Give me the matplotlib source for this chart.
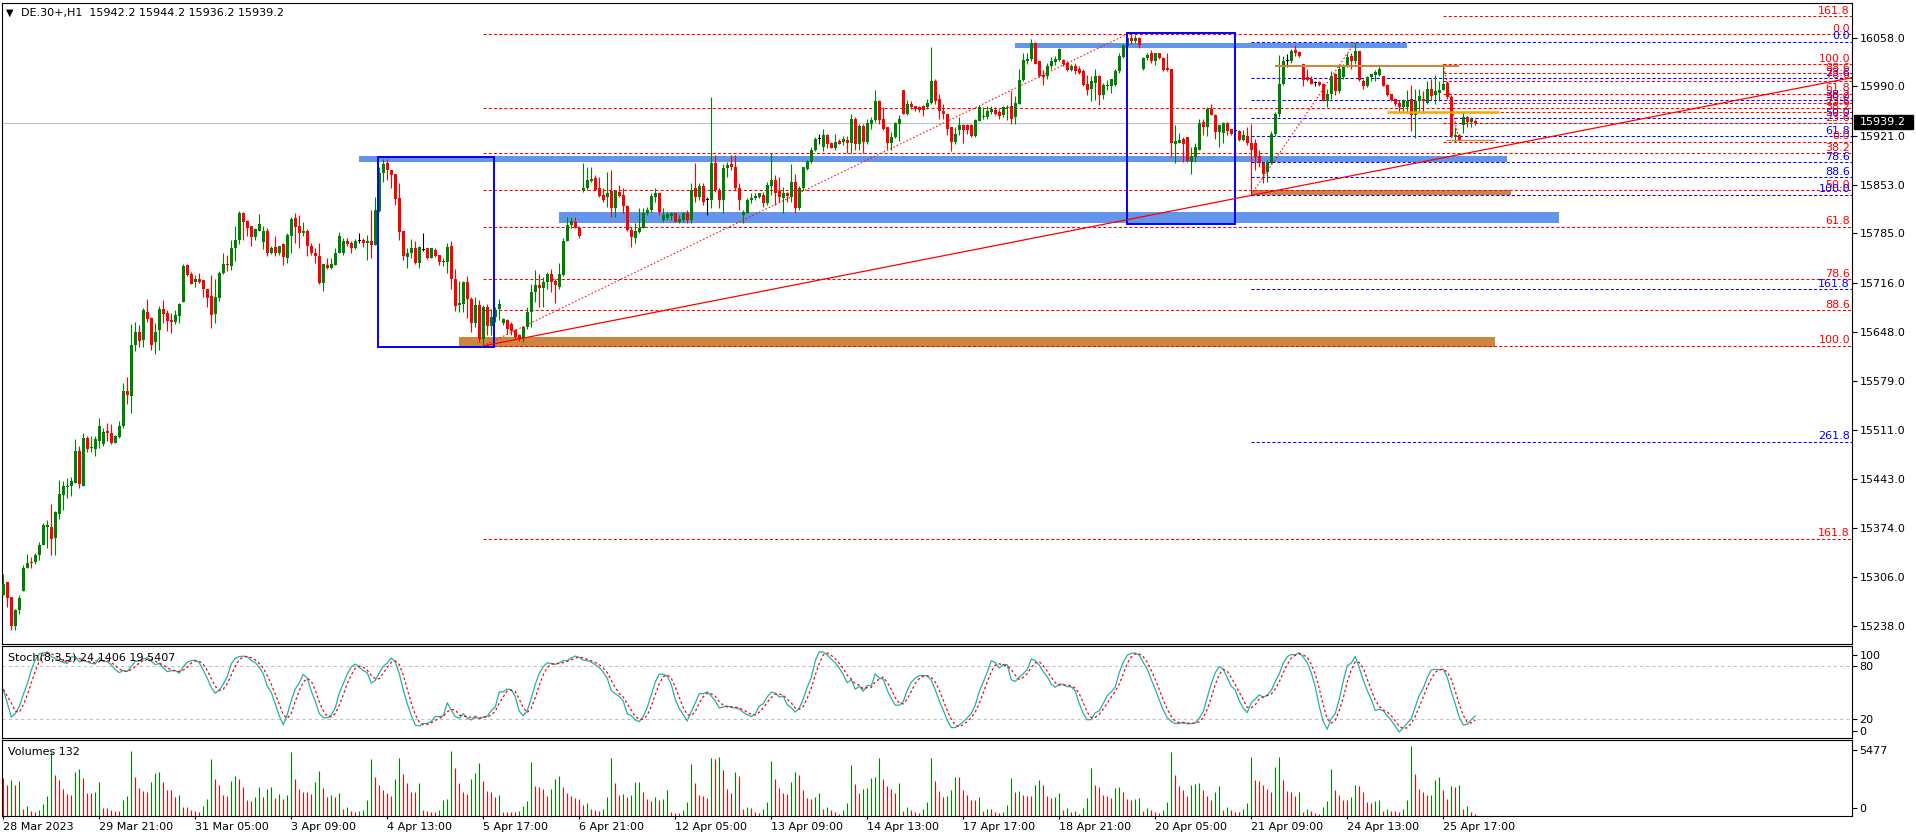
import numpy as np
import pandas as pd
import matplotlib
matplotlib.use("Agg")
import matplotlib.pyplot as plt
import matplotlib.transforms as mtransforms
from matplotlib.patches import Rectangle

# ---- candles, DE.30+ H1, 28 Mar - 25 Apr 2023 ----
opens = [
    15280, 15298, 15278, 15237, 15259, 15286, 15318, 15327, 15326, 15336,
    15350, 15375, 15376, 15360, 15394, 15420, 15431, 15433, 15437, 15481,
    15433, 15500, 15485, 15484, 15496, 15491, 15509, 15507, 15492, 15501,
    15516, 15565, 15558, 15629, 15647, 15636, 15676, 15667, 15633, 15650,
    15679, 15674, 15664, 15661, 15670, 15689, 15741, 15728, 15717, 15721,
    15720, 15707, 15697, 15673, 15695, 15730, 15743, 15740, 15765, 15776,
    15813, 15802, 15795, 15780, 15789, 15773, 15788, 15758, 15766, 15757,
    15770, 15750, 15782, 15806, 15796, 15786, 15788, 15767, 15758, 15754,
    15716, 15741, 15737, 15741, 15758, 15758, 15775, 15772, 15765, 15774,
    15776, 15772, 15775, 15769, 15816, 15869, 15883, 15873, 15868, 15834,
    15788, 15752, 15758, 15765, 15744, 15762, 15764, 15751, 15762, 15755,
    15745, 15745, 15767, 15721, 15685, 15687, 15717, 15693, 15660, 15685,
    15638, 15683, 15656, 15669, 15680, 15660, 15664, 15658, 15650, 15643,
    15639, 15654, 15675, 15703, 15713, 15709, 15717, 15728, 15718, 15710,
    15727, 15774, 15797, 15801, 15793, 15846, 15848, 15858, 15862, 15848,
    15838, 15836, 15844, 15820, 15843, 15838, 15823, 15790, 15779, 15787,
    15793, 15813, 15817, 15836, 15842, 15804, 15807, 15809, 15813, 15801,
    15803, 15813, 15803, 15848, 15836, 15851, 15831, 15831, 15883, 15846,
    15832, 15876, 15882, 15878, 15848, 15811, 15814, 15831, 15835, 15836,
    15838, 15827, 15851, 15859, 15844, 15835, 15841, 15836, 15856, 15820,
    15848, 15875, 15885, 15901, 15917, 15905, 15922, 15911, 15904, 15914,
    15913, 15915, 15911, 15944, 15910, 15935, 15913, 15938, 15943, 15969,
    15945, 15933, 15911, 15919, 15938, 15985, 15951, 15966, 15963, 15961,
    15963, 15961, 15967, 15998, 15972, 15956, 15952, 15933, 15913, 15929,
    15936, 15936, 15936, 15921, 15942, 15947, 15947, 15955, 15957, 15955,
    15950, 15960, 15963, 15948, 15966, 15999, 16026, 16028, 16051, 16025,
    16006, 16005, 16018, 16024, 16027, 16027, 16023, 16013, 16018, 16015,
    16012, 15994, 15986, 15995, 16004, 15978, 15990, 15991, 15992, 16011,
    16031, 16046, 16058, 16054, 16057, 16015, 16029, 16036, 16025, 16036,
    16030, 16016, 16014, 15910, 15911, 15917, 15919, 15885, 15892, 15902,
    15941, 15933, 15958, 15950, 15927, 15925, 15939, 15930, 15928, 15928,
    15915, 15921, 15911, 15911, 15893, 15883, 15870, 15883, 15924, 15952,
    15993, 16025, 16025, 16041, 16038, 16021, 16003, 16000, 15995, 15996,
    15993, 15969, 15980, 16007, 15983, 16003, 16018, 16032, 16025, 16039,
    15998, 15990, 16003, 16006, 16006, 16004, 15992, 15979, 15972, 15967,
    15962, 15962, 15972, 15950, 15969, 15973, 15967, 15987, 15978, 15981,
    15985, 15995, 15975, 15919, 15922, 15936, 15947, 15941, 15942.2,
]
closes = [
    15296, 15277, 15237, 15259, 15277, 15318, 15325, 15325, 15337, 15351,
    15378, 15378, 15359, 15396, 15421, 15432, 15433, 15439, 15481, 15436,
    15500, 15484, 15487, 15498, 15516, 15508, 15507, 15492, 15502, 15517,
    15565, 15559, 15630, 15647, 15635, 15678, 15665, 15629, 15648, 15679,
    15673, 15663, 15662, 15671, 15687, 15740, 15727, 15715, 15721, 15717,
    15707, 15695, 15671, 15696, 15730, 15743, 15741, 15765, 15776, 15814,
    15801, 15793, 15780, 15791, 15798, 15788, 15758, 15765, 15757, 15767,
    15752, 15783, 15805, 15794, 15786, 15788, 15768, 15757, 15754, 15716,
    15742, 15737, 15742, 15758, 15782, 15775, 15770, 15765, 15774, 15774,
    15772, 15774, 15769, 15817, 15869, 15882, 15874, 15866, 15833, 15787,
    15753, 15757, 15765, 15744, 15766, 15762, 15751, 15764, 15753, 15745,
    15746, 15766, 15721, 15684, 15688, 15717, 15693, 15660, 15685, 15637,
    15683, 15656, 15669, 15678, 15686, 15665, 15652, 15649, 15641, 15637,
    15654, 15675, 15703, 15713, 15709, 15717, 15728, 15717, 15713, 15729,
    15774, 15797, 15802, 15793, 15781, 15848, 15860, 15861, 15846, 15837,
    15831, 15841, 15820, 15844, 15837, 15823, 15790, 15780, 15789, 15793,
    15813, 15818, 15837, 15842, 15815, 15811, 15812, 15813, 15801, 15805,
    15813, 15803, 15846, 15836, 15851, 15829, 15831, 15883, 15845, 15832,
    15876, 15880, 15877, 15848, 15831, 15815, 15831, 15835, 15837, 15841,
    15827, 15852, 15859, 15841, 15836, 15841, 15837, 15856, 15820, 15848,
    15877, 15886, 15902, 15917, 15917, 15922, 15910, 15904, 15913, 15910,
    15917, 15911, 15944, 15910, 15935, 15913, 15939, 15943, 15970, 15943,
    15931, 15911, 15920, 15939, 15945, 15952, 15966, 15961, 15958, 15957,
    15957, 15967, 15998, 15969, 15956, 15951, 15931, 15913, 15924, 15936,
    15929, 15929, 15921, 15943, 15962, 15949, 15956, 15958, 15951, 15949,
    15961, 15961, 15945, 15967, 15999, 16027, 16028, 16051, 16022, 16004,
    16003, 16018, 16026, 16028, 16042, 16022, 16013, 16018, 16012, 16009,
    15992, 15985, 15998, 16004, 15978, 15992, 15992, 16000, 16011, 16032,
    16048, 16057, 16054, 16058, 16048, 16029, 16034, 16025, 16036, 16029,
    16013, 16013, 15911, 15914, 15915, 15910, 15886, 15893, 15906, 15939,
    15933, 15958, 15950, 15927, 15936, 15939, 15928, 15924, 15928, 15915,
    15922, 15911, 15901, 15891, 15883, 15868, 15885, 15924, 15952, 15994,
    16025, 16025, 16040, 16036, 16032, 15999, 15999, 15994, 15995, 15992,
    15970, 15980, 16004, 15983, 16015, 16018, 16031, 16025, 16039, 15999,
    15990, 16003, 16007, 16010, 16014, 15991, 15978, 15971, 15965, 15961,
    15971, 15969, 15950, 15970, 15976, 15969, 15987, 15977, 15983, 15985,
    15993, 15975, 15921, 15922, 15915, 15947, 15941, 15944, 15939.2,
]
highs = [
    15310, 15298, 15278, 15261, 15280, 15322, 15338, 15333, 15339, 15354,
    15381, 15385, 15407, 15398, 15441, 15440, 15444, 15445, 15498, 15489,
    15506, 15503, 15502, 15503, 15527, 15514, 15520, 15519, 15504, 15523,
    15576, 15584, 15658, 15662, 15657, 15681, 15693, 15668, 15660, 15684,
    15692, 15678, 15674, 15678, 15688, 15742, 15742, 15731, 15727, 15730,
    15720, 15707, 15727, 15721, 15733, 15757, 15755, 15776, 15796, 15816,
    15815, 15803, 15795, 15793, 15812, 15795, 15793, 15768, 15781, 15768,
    15771, 15785, 15808, 15814, 15810, 15801, 15791, 15771, 15765, 15772,
    15742, 15751, 15750, 15765, 15787, 15779, 15778, 15775, 15777, 15786,
    15779, 15783, 15817, 15836, 15878, 15889, 15889, 15874, 15868, 15855,
    15789, 15764, 15777, 15774, 15767, 15785, 15764, 15765, 15764, 15755,
    15750, 15772, 15775, 15735, 15718, 15718, 15725, 15696, 15696, 15692,
    15685, 15687, 15680, 15683, 15693, 15667, 15666, 15662, 15652, 15645,
    15656, 15683, 15715, 15734, 15728, 15724, 15731, 15736, 15722, 15744,
    15778, 15808, 15808, 15808, 15795, 15883, 15878, 15878, 15866, 15864,
    15848, 15871, 15873, 15845, 15852, 15848, 15824, 15794, 15799, 15820,
    15820, 15822, 15841, 15848, 15842, 15820, 15815, 15815, 15813, 15810,
    15815, 15817, 15855, 15883, 15855, 15855, 15836, 15975, 15894, 15848,
    15882, 15885, 15894, 15894, 15855, 15817, 15834, 15841, 15842, 15842,
    15843, 15856, 15897, 15866, 15864, 15850, 15843, 15882, 15868, 15851,
    15878, 15888, 15905, 15920, 15924, 15931, 15924, 15913, 15924, 15917,
    15921, 15921, 15951, 15948, 15938, 15937, 15945, 15948, 15985, 15971,
    15961, 15934, 15927, 15941, 15950, 15985, 15971, 15969, 15963, 15963,
    15964, 15973, 16045, 16000, 15980, 15966, 15952, 15934, 15933, 15947,
    15938, 15938, 15937, 15944, 15964, 15961, 15963, 15963, 15961, 15958,
    15963, 15964, 15984, 15977, 16015, 16036, 16036, 16056, 16052, 16025,
    16013, 16023, 16031, 16032, 16043, 16028, 16025, 16022, 16023, 16018,
    16015, 16006, 16004, 16014, 16006, 15995, 15999, 16001, 16015, 16036,
    16049, 16063, 16063, 16062, 16059, 16031, 16037, 16041, 16037, 16036,
    16031, 16037, 16014, 15936, 15925, 15919, 15920, 15906, 15911, 15945,
    15945, 15961, 15965, 15951, 15937, 15941, 15941, 15931, 15930, 15929,
    15929, 15933, 15938, 15917, 15901, 15885, 15887, 15928, 15955, 16034,
    16032, 16035, 16042, 16048, 16040, 16022, 16015, 16005, 15998, 15998,
    15995, 15987, 16011, 16009, 16018, 16022, 16036, 16036, 16051, 16040,
    16001, 16004, 16008, 16013, 16018, 16005, 15993, 15980, 15974, 15971,
    15973, 15985, 15992, 15987, 15986, 15984, 15998, 16000, 16006, 15997,
    16021, 15998, 15978, 15933, 15924, 15955, 15949, 15947, 15944.2,
]
lows = [
    15280, 15264, 15232, 15232, 15254, 15286, 15318, 15318, 15324, 15330,
    15350, 15346, 15336, 15337, 15386, 15399, 15416, 15419, 15437, 15430,
    15433, 15480, 15480, 15475, 15485, 15489, 15496, 15491, 15492, 15500,
    15514, 15547, 15535, 15621, 15627, 15627, 15661, 15623, 15617, 15623,
    15660, 15649, 15646, 15659, 15660, 15689, 15726, 15714, 15710, 15716,
    15696, 15683, 15653, 15660, 15691, 15729, 15733, 15734, 15747, 15770,
    15776, 15781, 15768, 15776, 15789, 15763, 15754, 15756, 15754, 15755,
    15741, 15744, 15757, 15771, 15765, 15781, 15754, 15755, 15744, 15714,
    15705, 15735, 15735, 15741, 15757, 15755, 15768, 15758, 15763, 15771,
    15766, 15748, 15750, 15769, 15815, 15857, 15859, 15848, 15824, 15776,
    15748, 15737, 15751, 15743, 15737, 15761, 15749, 15750, 15752, 15741,
    15739, 15730, 15707, 15677, 15675, 15675, 15667, 15647, 15654, 15633,
    15627, 15643, 15643, 15662, 15664, 15657, 15645, 15643, 15638, 15635,
    15634, 15652, 15655, 15689, 15682, 15683, 15708, 15703, 15688, 15707,
    15725, 15774, 15792, 15792, 15778, 15843, 15845, 15857, 15845, 15836,
    15829, 15822, 15808, 15808, 15836, 15813, 15789, 15766, 15772, 15785,
    15792, 15811, 15815, 15829, 15811, 15801, 15803, 15804, 15801, 15800,
    15801, 15799, 15799, 15829, 15831, 15824, 15811, 15820, 15843, 15820,
    15813, 15864, 15874, 15845, 15817, 15799, 15813, 15828, 15831, 15834,
    15822, 15824, 15838, 15824, 15829, 15814, 15829, 15829, 15813, 15817,
    15846, 15874, 15883, 15900, 15910, 15900, 15904, 15904, 15902, 15910,
    15908, 15897, 15897, 15902, 15901, 15897, 15910, 15931, 15941, 15937,
    15929, 15903, 15901, 15918, 15914, 15951, 15950, 15958, 15956, 15955,
    15949, 15959, 15965, 15966, 15945, 15945, 15922, 15900, 15910, 15922,
    15911, 15924, 15920, 15919, 15942, 15944, 15944, 15951, 15950, 15944,
    15948, 15943, 15938, 15938, 15966, 15998, 16022, 16026, 16021, 16003,
    15992, 16001, 16014, 16020, 16026, 16018, 16012, 16012, 16008, 16007,
    15991, 15978, 15970, 15971, 15964, 15972, 15985, 15981, 15991, 16009,
    16029, 16045, 16049, 16051, 16043, 16013, 16027, 16023, 16020, 16028,
    16012, 16012, 15892, 15883, 15911, 15885, 15885, 15868, 15885, 15901,
    15922, 15921, 15950, 15917, 15906, 15911, 15922, 15922, 15926, 15914,
    15914, 15908, 15838, 15874, 15878, 15855, 15856, 15882, 15921, 15948,
    15992, 16017, 16023, 16032, 16031, 15991, 15997, 15993, 15991, 15991,
    15969, 15961, 15973, 15978, 15981, 16000, 16017, 16014, 16022, 15997,
    15987, 15989, 15997, 15997, 16004, 15990, 15977, 15970, 15963, 15953,
    15953, 15955, 15928, 15918, 15955, 15955, 15966, 15971, 15966, 15969,
    15985, 15973, 15920, 15913, 15914, 15925, 15933, 15934, 15936.2,
]
volumes = [
    2935, 2415, 2805, 2415, 2727, 545, 779, 390, 338, 467,
    935, 1558, 5012, 3194, 2805, 2078, 1714, 1636, 3402, 3662,
    2987, 1818, 1800, 1896, 2649, 649, 640, 467, 416, 390,
    1247, 1558, 5064, 3064, 2207, 1948, 1870, 2675, 3376, 3428,
    2649, 2026, 2000, 1506, 1636, 701, 690, 467, 416, 338,
    779, 1324, 4441, 2857, 2415, 1610, 1590, 2727, 3116, 2857,
    2259, 1247, 1169, 1480, 2285, 1506, 2130, 2259, 1376, 1714,
    1299, 1636, 4986, 2883, 2104, 1896, 1844, 1714, 2675, 3506,
    2207, 1506, 1636, 1506, 1818, 545, 701, 390, 312, 400,
    467, 1247, 4441, 3064, 2415, 2026, 1766, 1558, 2883, 4545,
    3298, 2545, 1870, 1850, 2545, 467, 390, 312, 286, 467,
    1247, 1300, 5064, 3766, 2545, 1870, 1740, 2883, 3376, 4103,
    2727, 1948, 1870, 1506, 1636, 312, 300, 290, 280, 390,
    779, 1169, 4207, 2363, 2285, 2078, 1558, 2104, 2883, 3142,
    2285, 1818, 1558, 1428, 1324, 857, 1039, 545, 467, 390,
    545, 1506, 4545, 2545, 1636, 1714, 1506, 1636, 2649, 2680,
    1844, 1324, 1169, 1480, 1247, 1324, 2026, 312, 260, 250,
    441, 1117, 4077, 2597, 1636, 1558, 1428, 4545, 4467, 4560,
    3558, 2130, 1818, 3454, 3142, 519, 727, 649, 338, 260,
    571, 1117, 4311, 2909, 2207, 1818, 1740, 2675, 3454, 3220,
    2000, 1428, 1350, 1506, 1818, 571, 727, 493, 338, 182,
    493, 1039, 3999, 2519, 1818, 2130, 2207, 2987, 3064, 4545,
    2909, 2363, 2130, 1818, 2597, 416, 727, 493, 338, 260,
    571, 1117, 4545, 2753, 1974, 1506, 1584, 2052, 3064, 3040,
    2052, 1662, 1273, 1260, 1506, 416, 571, 560, 338, 260,
    338, 883, 2987, 1896, 1974, 1662, 1584, 1570, 2441, 2831,
    2441, 1584, 1428, 1506, 1818, 493, 649, 338, 416, 182,
    649, 1428, 3766, 2441, 2285, 1662, 1584, 1428, 2207, 2285,
    1896, 1350, 1273, 1350, 1428, 416, 649, 493, 338, 260,
    493, 1117, 5012, 3220, 2363, 2052, 1584, 2441, 2519, 2597,
    2052, 1584, 1273, 1896, 2363, 493, 727, 493, 338, 330,
    545, 1039, 4597, 2805, 2727, 2415, 2078, 1896, 3818, 4620,
    2805, 1948, 1896, 1558, 1870, 312, 519, 390, 260, 182,
    701, 1169, 3662, 2026, 1636, 1247, 1230, 1480, 2415, 2363,
    1870, 1117, 1039, 1169, 1247, 390, 545, 416, 380, 312,
    545, 1247, 5477, 3272, 2104, 1844, 1636, 1650, 2805, 3038,
    2026, 1324, 2337, 2259, 2415, 545, 779, 312, 132,
]

date_labels = ["28 Mar 2023", "29 Mar 21:00", "31 Mar 05:00", "3 Apr 09:00",
               "4 Apr 13:00", "5 Apr 17:00", "6 Apr 21:00", "12 Apr 05:00",
               "13 Apr 09:00", "14 Apr 13:00", "17 Apr 17:00", "18 Apr 21:00",
               "20 Apr 05:00", "21 Apr 09:00", "24 Apr 13:00", "25 Apr 17:00"]
price_ticks = [16058, 15990, 15921, 15853, 15785, 15716, 15648, 15579,
               15511, 15443, 15374, 15306, 15238]
last_price = 15939.2

# drawn objects, in bar index / price
# fibo: (bar of 100 level, price of 100, bar of 0 level, price of 0)
fib_big = (120, 15628, 281, 16063)
fib_small = (360, 16021, 364, 15913)
fib_blue = (312, 15839, 338, 16052)
fib_levels = [0.0, 23.6, 38.2, 50.0, 61.8, 78.6, 88.6, 100.0, 161.8]
fib_blue_levels = fib_levels + [261.8]
trend_pts = (120, 15628, 312, 15838)
# zones: (bar from, bar to, price low, price high)
blue_zones = [(252.9, 350.9, 16044, 16051), (88.9, 375.9, 15885, 15893),
              (138.9, 388.9, 15800, 15815)]
brown_zones = [(113.9, 372.9, 15626, 15641), (311.9, 376.9, 15839, 15845)]
boxes = [(93.75, 122.75, 15626, 15891), (280.85, 308.0, 15798, 16064)]
# short horizontal lines: (bar from, bar to, price)
brown_line = (317.9, 363.9, 16019)
orange_line = (345.9, 373.9, 15954)
thin_brown_line = (360.8, 372.9, 15915)

W, H = 1916, 840
plt.rcParams['font.family'] = 'DejaVu Sans'
plt.rcParams['font.size'] = 8
fig = plt.figure(figsize=(W / 100, H / 100), dpi=100)


def add_panel(left, top, right, bottom):
    a = fig.add_axes([left / W, 1 - bottom / H, (right - left) / W, (bottom - top) / H])
    for s in a.spines.values():
        s.set_linewidth(0.8)
        s.set_color('black')
    return a


ax = add_panel(2, 2.5, 1852, 644)
ax_st = add_panel(2, 646, 1852, 737.5)
ax_v = add_panel(2, 740, 1852, 816)

o = np.array(opens, dtype=float)
c = np.array(closes, dtype=float)
h = np.maximum(np.array(highs, dtype=float), np.maximum(o, c))
l = np.minimum(np.array(lows, dtype=float), np.minimum(o, c))
x = np.arange(len(c))
xmax = 462.2
cols = np.where(c > o, '#008000', np.where(c < o, '#FF0000', '#000000'))

# zones and lines behind the candles
for x0, x1, lo, hi in blue_zones:
    ax.add_patch(Rectangle((x0, lo), x1 - x0, hi - lo, color='#6495ED', lw=0, zorder=1))
for x0, x1, lo, hi in brown_zones:
    ax.add_patch(Rectangle((x0, lo), x1 - x0, hi - lo, color='#CD853F', lw=0, zorder=1))
ax.axhline(last_price, color='#C0C0C0', lw=0.8, zorder=1)

lab_tr = mtransforms.offset_copy(
    mtransforms.blended_transform_factory(ax.transAxes, ax.transData),
    fig=fig, x=0, y=2.5, units='dots')


def draw_fib(fb, levels, color):
    b100, p100, b0, p0 = fb
    for lv in levels:
        p = p0 + (p100 - p0) * lv / 100
        ax.hlines(p, min(b100, b0), xmax, colors=color, lw=0.75,
                  linestyles=(0, (3, 2)), zorder=2)
        ax.text(1 - 2 / 1850, p, f'{lv:.1f}', color=color, ha='right',
                va='baseline', transform=lab_tr, zorder=2)
    ax.plot([b100, b0], [p100, p0], color='#FF0000', lw=0.75,
            ls=(0, (1.5, 2)), zorder=4)


draw_fib(fib_big, fib_levels, '#FF0000')
draw_fib(fib_blue, fib_blue_levels, '#0000FF')
draw_fib(fib_small, fib_levels, '#FF0000')

# candles
ax.vlines(x, l, h, colors=cols, lw=0.8, zorder=3)
body = np.maximum(np.abs(c - o), 1.3)
ax.bar(x, body, bottom=np.minimum(o, c), width=0.68, color=cols, lw=0, zorder=3)

# objects over the candles
for x0, x1, lo, hi in boxes:
    ax.add_patch(Rectangle((x0, lo), x1 - x0, hi - lo, fill=False,
                           edgecolor='#0000FF', lw=1.4, zorder=4))
for (x0, x1, p), colr, lw in [(brown_line, '#CD853F', 1.5),
                              (orange_line, '#FFA500', 1.8),
                              (thin_brown_line, '#CD853F', 1.0)]:
    ax.hlines(p, x0, x1, colors=colr, lw=lw, zorder=4)
tb0, tp0, tb1, tp1 = trend_pts
slope = (tp1 - tp0) / (tb1 - tb0)
ax.plot([tb0, xmax], [tp0, tp0 + slope * (xmax - tb0)], color='#FF0000', lw=0.9, zorder=4)

ax.set_xlim(-0.325, xmax)
ax.set_ylim(15212.2, 16107.1)
ax.set_xticks([])
ax.yaxis.tick_right()
ax.set_yticks(price_ticks)
ax.set_yticklabels([f'{t:.1f}' for t in price_ticks])
ax.tick_params(axis='y', length=3.6, width=0.8, pad=1.7, labelsize=8)

# current price box
fig.patches.append(Rectangle((1854 / W, 1 - 128.8 / H), 59 / W, 13.4 / H,
                             transform=fig.transFigure, color='black'))
fig.text(1859.5 / W, 1 - 122.2 / H, f'{last_price:.1f}', color='white',
         ha='left', va='center', fontsize=8)

fig.text(10 / W, 1 - 12.7 / H, '\u25bc', ha='center', va='center', fontsize=7)
fig.text(21 / W, 1 - 12.7 / H, 'DE.30+,H1  15942.2 15944.2 15936.2 15939.2',
         ha='left', va='center', fontsize=8)

# stochastic (8,3,5)
sc = pd.Series(c)
hh = pd.Series(h).rolling(8, min_periods=1).max()
ll = pd.Series(l).rolling(8, min_periods=1).min()
k = 100 * (sc - ll).rolling(5, min_periods=1).sum() / (hh - ll).rolling(5, min_periods=1).sum()
d = k.rolling(3, min_periods=1).mean()
ax_st.axhline(80, color='#C0C0C0', lw=0.75, ls=(0, (3, 3)))
ax_st.axhline(20, color='#C0C0C0', lw=0.75, ls=(0, (3, 3)))
ax_st.plot(x, k, color='#20B2AA', lw=0.9)
ax_st.plot(x, d, color='#FF0000', lw=0.9, ls=(0, (2, 2)))
ax_st.set_xlim(-0.325, xmax)
ax_st.set_ylim(-0.8, 102.1)
ax_st.set_xticks([])
ax_st.yaxis.tick_right()
ax_st.set_yticks([92, 80, 20, 7])
ax_st.set_yticklabels(['100', '80', '20', '0'])
ax_st.tick_params(axis='y', length=3.6, width=0.8, pad=1.7, labelsize=8)
fig.text(7.6 / W, 1 - 657.7 / H, 'Stoch(8,3,5) 24.1406 19.5407',
         ha='left', va='center', fontsize=8)

# volumes, green when higher than the bar before
v = np.array(volumes, dtype=float)
vcol = np.where(np.r_[False, v[1:] > v[:-1]], '#008000', '#FF0000')
ax_v.vlines(x, 0, v, colors=vcol, lw=0.8)
ax_v.set_xlim(-0.325, xmax)
ax_v.set_ylim(0, 5921)
ax_v.yaxis.tick_right()
ax_v.set_yticks([5165, 623])
ax_v.set_yticklabels(['5477', '0'])
ax_v.tick_params(axis='y', length=3.6, width=0.8, pad=1.7, labelsize=8)
ax_v.set_xticks(np.arange(len(date_labels)) * 24)
ax_v.set_xticklabels(date_labels, ha='left')
ax_v.tick_params(axis='x', length=2.2, width=0.8, pad=1.8, labelsize=8)
fig.text(7.6 / W, 1 - 751.7 / H, 'Volumes 132', ha='left', va='center', fontsize=8)

fig.savefig('out.png', dpi=100, facecolor='white')
